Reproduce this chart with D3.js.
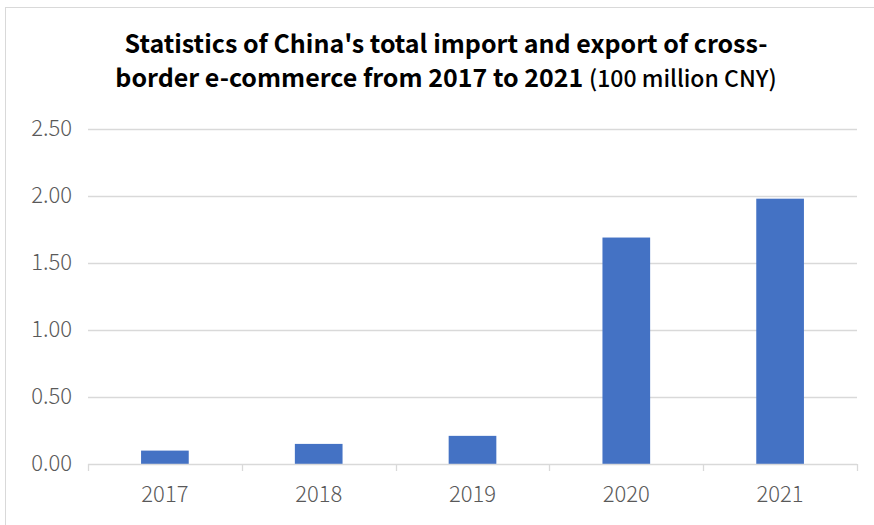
<!DOCTYPE html>
<html>
<head>
<meta charset="utf-8">
<script src="https://cdn.jsdelivr.net/npm/d3@7"></script>
<style>
  body { margin: 0; background: #fff; }
  text { font-family: "Noto Sans CJK SC", "Noto Sans", sans-serif; }
</style>
</head>
<body>
<svg id="chart"></svg>
<script>
let years = ['2017', '2018', '2019', '2020', '2021'];
let values = [0.10, 0.15, 0.21, 1.69, 1.98];
let yTicks = [0, 0.5, 1, 1.5, 2, 2.5];

let width = 874, height = 525;
let margin = {top: 129, right: 17, bottom: 61, left: 88};
let innerW = width - margin.left - margin.right;
let innerH = height - margin.top - margin.bottom;

let svg = d3.select('#chart').attr('width', width).attr('height', height);

// outer frame
svg.append('rect').attr('x', 5.5).attr('y', 7.5).attr('width', 880).attr('height', 530)
    .style('fill', 'none').style('stroke', '#d9d9d9');

let g = svg.append('g').attr('transform', 'translate(' + margin.left + ', ' + margin.top + ')');

let xScale = d3.scaleBand().range([0, innerW]).domain(years).paddingInner(0.69).paddingOuter(0.345);
let yScale = d3.scaleLinear().range([innerH, 0]).domain([0, 2.5]);

// gridlines
g.append('g').selectAll('line').data(yTicks.slice(1)).enter().append('line')
    .attr('x1', 0).attr('x2', innerW)
    .attr('y1', d=>{return Math.round(yScale(d)) + 0.5;})
    .attr('y2', d=>{return Math.round(yScale(d)) + 0.5;})
    .style('stroke', '#d9d9d9').style('stroke-width', '1.3px');

// y labels
g.append('g').selectAll('text').data(yTicks).enter().append('text')
    .attr('x', -16).attr('y', d=>{return yScale(d) + 7;})
    .style('text-anchor', 'end')
    .style('font-size', '22px').style('font-weight', 300).style('fill', '#595959')
    .text(d=>{return d3.format('.2f')(d);});

// bars
g.selectAll('.bar').data(values).enter().append('rect')
    .attr('class', 'bar')
    .attr('x', (d, i)=>{return xScale(years[i]);})
    .attr('y', d=>{return yScale(d);})
    .attr('width', xScale.bandwidth())
    .attr('height', d=>{return innerH - yScale(d);})
    .style('fill', '#4472c4');

// x axis
let xAxis = g.append('g').attr('transform', 'translate(0, ' + innerH + ')');
xAxis.append('line').attr('x1', 0).attr('x2', innerW).attr('y1', 0.5).attr('y2', 0.5)
    .style('stroke', '#d9d9d9').style('stroke-width', '1.3px');
let step = innerW / years.length;
xAxis.selectAll('.tick').data(d3.range(years.length + 1)).enter().append('line')
    .attr('x1', i=>{return Math.round(i * step) + 0.5;})
    .attr('x2', i=>{return Math.round(i * step) + 0.5;})
    .attr('y1', 0).attr('y2', 7)
    .style('stroke', '#d9d9d9').style('stroke-width', '1.3px');
xAxis.selectAll('.lbl').data(years).enter().append('text')
    .attr('x', d=>{return xScale(d) + xScale.bandwidth() / 2;})
    .attr('y', 38)
    .style('text-anchor', 'middle').style('font-size', '22px').style('font-weight', 300).style('fill', '#595959')
    .text(d=>{return d;});

// title
let title = svg.append('text').attr('x', 446).attr('y', 53)
    .style('text-anchor', 'middle').style('font-size', '25px').style('font-weight', 'bold').style('fill', '#000');
title.text("Statistics of China's total import and export of cross-");
let title2 = svg.append('text').attr('x', 446).attr('y', 87)
    .style('text-anchor', 'middle').style('font-size', '25px').style('font-weight', 'bold').style('fill', '#000');
title2.append('tspan').text('border e-commerce from 2017 to 2021 ');
title2.append('tspan').style('font-size', '23px').style('font-weight', 500).text('(100 million CNY)');
</script>
</body>
</html>
